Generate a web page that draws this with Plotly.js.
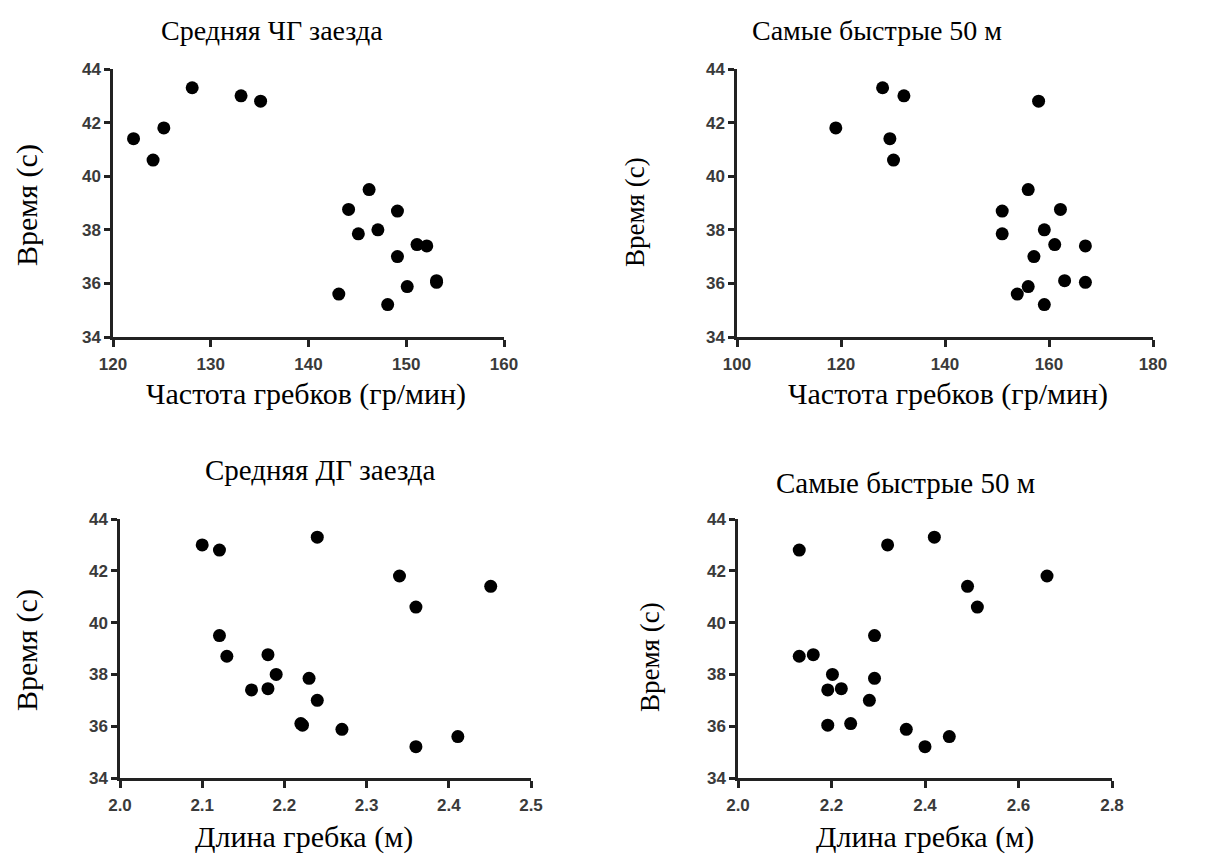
<!DOCTYPE html>
<html>
<head>
<meta charset="utf-8">
<script src="https://cdn.plot.ly/plotly-3.0.1.min.js"></script>
<style>html,body{margin:0;padding:0;background:#fff;}#chart{width:1209px;height:854px;}</style>
</head>
<body>
<div id="chart"></div>
<script>
// Race time (s) of each swimmer, shared by all four panels
const timeSec = [43.3, 43.0, 42.8, 41.8, 41.4, 40.6, 39.5, 38.76, 38.7, 38.0, 37.85, 37.45, 37.4, 37.0, 36.1, 36.04, 35.88, 35.6, 35.21];
// Panel 1: mean race stroke rate (strokes/min)
const rateMean = [128.1, 133.1, 135.1, 125.2, 122.1, 124.1, 146.2, 144.1, 149.1, 147.1, 145.1, 151.1, 152.1, 149.1, 153.1, 153.1, 150.1, 143.1, 148.1];
// Panel 2: stroke rate over fastest 50 m
const rateFast = [128.0, 132.1, 158.0, 119.0, 129.4, 130.1, 156.0, 162.2, 151.0, 159.1, 151.0, 161.1, 167.0, 157.1, 163.0, 167.0, 156.0, 153.9, 159.1];
// Panel 3: mean race stroke length (m)
const lenMean = [2.24, 2.10, 2.121, 2.34, 2.451, 2.36, 2.121, 2.18, 2.13, 2.19, 2.23, 2.18, 2.16, 2.24, 2.22, 2.222, 2.27, 2.411, 2.36];
// Panel 4: stroke length over fastest 50 m
const lenFast = [2.42, 2.32, 2.131, 2.661, 2.491, 2.512, 2.292, 2.161, 2.131, 2.202, 2.292, 2.221, 2.192, 2.281, 2.241, 2.192, 2.36, 2.452, 2.40];

const panelTitles = ["Средняя ЧГ заезда", "Самые быстрые 50 м", "Средняя ДГ заезда", "Самые быстрые 50 м"];
const xTitles = ["Частота гребков (гр/мин)", "Частота гребков (гр/мин)", "Длина гребка (м)", "Длина гребка (м)"];
const yTitle = "Время (с)";

const W = 1209, H = 854;
const px = x => x / W;
const py = y => 1 - y / H;

const traces = [
  {x: rateMean, y: timeSec, xaxis: 'x', yaxis: 'y'},
  {x: rateFast, y: timeSec, xaxis: 'x2', yaxis: 'y2'},
  {x: lenMean, y: timeSec, xaxis: 'x3', yaxis: 'y3'},
  {x: lenFast, y: timeSec, xaxis: 'x4', yaxis: 'y4'}
].map(t => Object.assign(t, {type: 'scatter', mode: 'markers', marker: {color: '#000', size: 13, line: {width: 0}}, hoverinfo: 'x+y'}));

function tf() { return {family: 'Liberation Sans', size: 17, color: '#3a3a3a', weight: 700}; }
function xax(dom, range, dtick, fmt, anchor) {
  return {domain: dom, range: range, dtick: dtick, tick0: range[0], tickformat: fmt, anchor: anchor,
    showline: true, linecolor: '#222', linewidth: 2.5, ticks: 'outside', ticklen: 7, tickwidth: 2.5, tickcolor: '#222',
    ticklabelstandoff: 3,
    showgrid: false, zeroline: false, tickfont: tf(), fixedrange: true};
}
function yax(dom, anchor) {
  return {domain: dom, range: [34, 44], dtick: 2, tick0: 34, anchor: anchor,
    showline: true, linecolor: '#222', linewidth: 2.5, ticks: 'outside', ticklen: 6, tickwidth: 2.5, tickcolor: '#222',
    showgrid: false, zeroline: false, tickfont: tf(), fixedrange: true};
}

const serif = 'Liberation Serif';
function ann(text, x, y, size, angle) {
  return {text: text, xref: 'paper', yref: 'paper', x: px(x), y: py(y), xanchor: 'center', yanchor: 'middle',
    showarrow: false, textangle: angle || 0, font: {family: serif, size: size, color: '#000'}};
}

const layout = {
  width: W, height: H, margin: {l: 0, r: 0, t: 0, b: 0}, showlegend: false,
  paper_bgcolor: '#fff', plot_bgcolor: '#fff',
  font: {family: 'Liberation Sans', size: 17, color: '#3a3a3a'},
  xaxis:  xax([px(113), px(504)], [120, 160], 10, 'd', 'y'),
  yaxis:  yax([py(337), py(69)], 'x'),
  xaxis2: xax([px(737), px(1153)], [100, 180], 20, 'd', 'y2'),
  yaxis2: yax([py(337), py(69)], 'x2'),
  xaxis3: xax([px(120), px(531)], [2.0, 2.5], 0.1, '.1f', 'y3'),
  yaxis3: yax([py(778), py(519)], 'x3'),
  xaxis4: xax([px(738), px(1112)], [2.0, 2.8], 0.2, '.1f', 'y4'),
  yaxis4: yax([py(778), py(519)], 'x4'),
  annotations: [
    ann(panelTitles[0], 272, 30, 28),
    ann(panelTitles[1], 877, 30, 28),
    ann(panelTitles[2], 320, 470, 29),
    ann(panelTitles[3], 905, 483, 29),
    ann(xTitles[0], 306, 394, 30),
    ann(xTitles[1], 948, 394, 30),
    ann(xTitles[2], 304, 837, 30),
    ann(xTitles[3], 925, 837, 30),
    ann(yTitle, 27, 205, 30, -90),
    ann(yTitle, 635, 212, 27, -90),
    ann(yTitle, 27, 650, 30, -90),
    ann(yTitle, 650, 657, 27, -90)
  ]
};

Plotly.newPlot('chart', traces, layout, {displayModeBar: false});
</script>
</body>
</html>
